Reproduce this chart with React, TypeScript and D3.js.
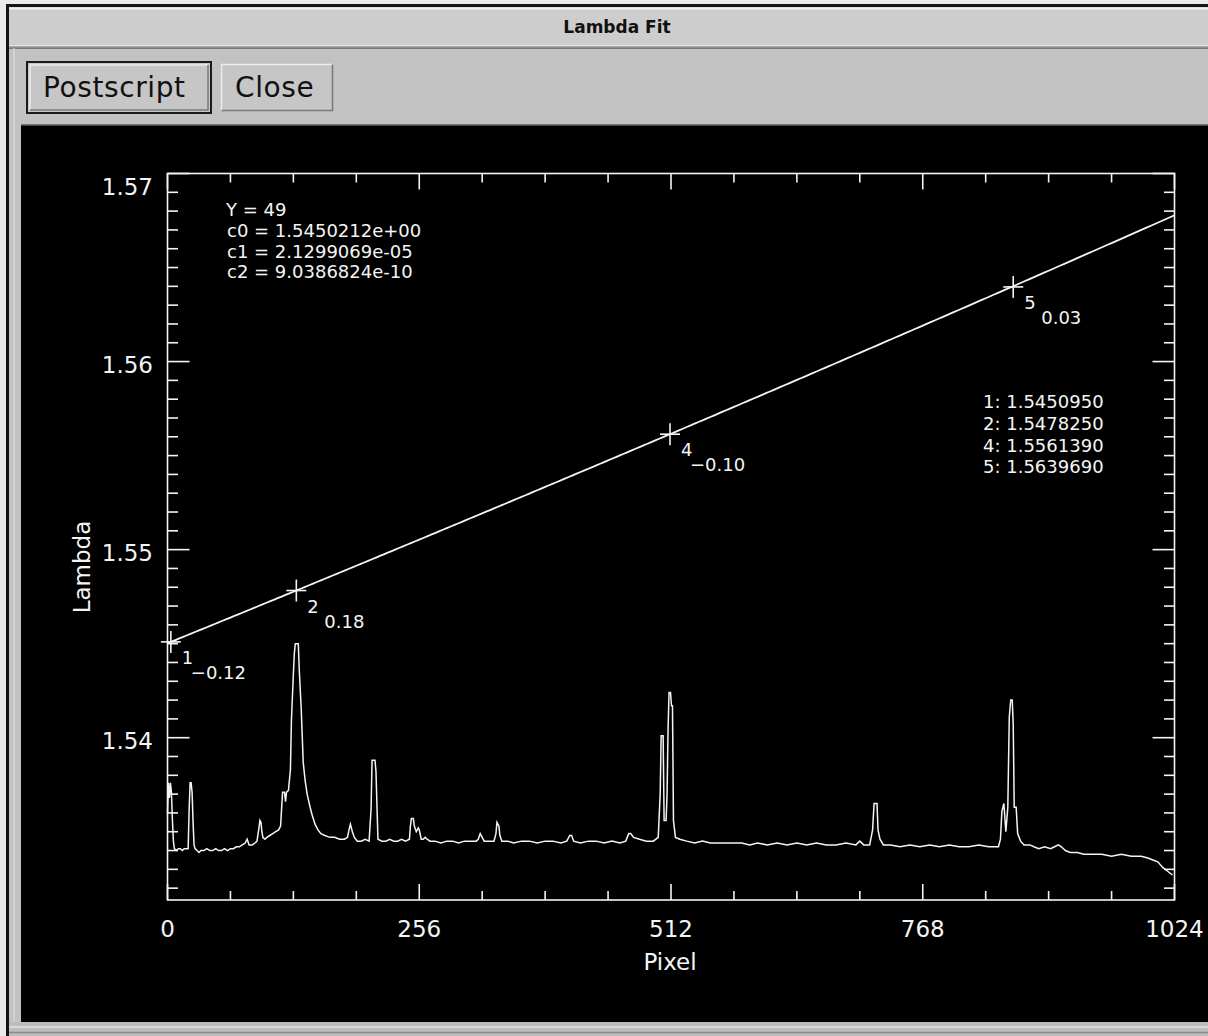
import React from "react";
import * as d3 from "d3";

// Fit result for the selected row
const rowIndex = 49;
const coefNames = ["c0", "c1", "c2"];
const coefValues = [1.5450212, 2.1299069e-5, 9.0386824e-10];
const coefText = ["1.5450212e+00", "2.1299069e-05", "9.0386824e-10"];

// Identified arc lines: id, measured pixel, wavelength, residual
const lineIds = [1, 2, 4, 5];
const linePixels = [3.4, 131, 511, 860];
const lineLambdas = [1.545095, 1.547825, 1.556139, 1.563969];
const lineLambdaText = ["1.5450950", "1.5478250", "1.5561390", "1.5639690"];
const lineResiduals = [-0.12, 0.18, -0.1, 0.03];

// Axis ticks
const xMajorTicks = [0, 256, 512, 768, 1024];
const yMajorTicks = [1.54, 1.55, 1.56, 1.57];

// Arc spectrum row, scaled onto the wavelength axis
const specPixels = [
  0, 1, 2, 3, 4, 5, 6, 7, 9, 11, 13, 15, 17, 19, 21, 22, 23, 24, 25, 26, 27, 28, 30, 32, 34, 37, 40, 43, 46, 49,
  52, 55, 58, 61, 64, 67, 70, 73, 76, 79, 81, 83, 86, 89, 91, 93, 94, 95, 96, 97, 99, 101, 104, 107, 110, 113, 115,
  116, 117, 119, 120, 121, 123, 125, 126, 128, 129, 130, 133, 134, 136, 138, 140, 142, 145, 147, 150, 153, 156, 160,
  165, 170, 175, 180, 183, 185, 186, 188, 190, 193, 197, 201, 205, 207, 208, 211, 212, 213, 214, 218, 222, 226, 230,
  234, 238, 242, 246, 247, 248, 250, 251, 253, 255, 256, 258, 260, 262, 264, 267, 272, 278, 284, 290, 296, 302, 308,
  314, 316, 318, 320, 322, 327, 332, 334, 335, 337, 338, 340, 346, 352, 360, 368, 376, 384, 392, 400, 406, 409, 411,
  413, 420, 428, 436, 444, 452, 460, 466, 469, 471, 474, 480, 487, 494, 499, 501, 502, 504, 505, 507, 508, 509, 510,
  511.5, 512.5, 513.5, 514.5, 516.5, 521, 528, 536, 544, 552, 560, 568, 576, 584, 592, 600, 610, 620, 630, 640, 650,
  660, 670, 680, 690, 700, 704, 708, 714, 717, 718.5, 721.5, 722.5, 724.5, 728, 735, 745, 755, 765, 775, 785, 795,
  805, 815, 825, 835, 845, 847, 848.5, 850.5, 852.5, 854.5, 856, 857.5, 859, 860, 861, 863, 864.5, 867.5, 871, 877,
  881, 886, 892, 898, 902, 906, 909, 913, 918, 925, 932, 940, 950, 960, 970, 980, 990, 997, 1002, 1007, 1012, 1017,
  1022,
];
const specValues = [
  1.536, 1.5376, 1.5368, 1.5376, 1.5371, 1.5356, 1.5345, 1.5341, 1.534, 1.5341, 1.5341, 1.534, 1.5341, 1.5341,
  1.5341, 1.5362, 1.5376, 1.5376, 1.5371, 1.5355, 1.5343, 1.5341, 1.534, 1.5339, 1.534, 1.534, 1.5341, 1.534, 1.534,
  1.5341, 1.534, 1.534, 1.5341, 1.534, 1.5341, 1.5341, 1.5342, 1.5342, 1.5343, 1.5344, 1.5346, 1.5343, 1.5343,
  1.5344, 1.5345, 1.5352, 1.5356, 1.5355, 1.535, 1.5347, 1.5346, 1.5347, 1.5348, 1.5349, 1.535, 1.5351, 1.5353,
  1.5362, 1.5371, 1.5371, 1.5366, 1.5371, 1.5372, 1.5383, 1.5409, 1.5434, 1.5445, 1.545, 1.545, 1.5436, 1.5415,
  1.5387, 1.5377, 1.537, 1.5363, 1.5359, 1.5354, 1.5351, 1.5349, 1.5348, 1.5347, 1.5347, 1.5346, 1.5346, 1.5347,
  1.5352, 1.5354, 1.535, 1.5347, 1.5345, 1.5345, 1.5346, 1.5345, 1.5362, 1.5388, 1.5388, 1.5382, 1.5364, 1.5346,
  1.5345, 1.5345, 1.5346, 1.5345, 1.5345, 1.5346, 1.5345, 1.5346, 1.5353, 1.5357, 1.5357, 1.5353, 1.535, 1.5352,
  1.5351, 1.5346, 1.5346, 1.5347, 1.5346, 1.5345, 1.5345, 1.5344, 1.5345, 1.5345, 1.5344, 1.5345, 1.5345, 1.5345,
  1.5346, 1.5349, 1.5347, 1.5345, 1.5345, 1.5345, 1.5349, 1.5355, 1.5353, 1.5348, 1.5345, 1.5345, 1.5344, 1.5345,
  1.5345, 1.5344, 1.5345, 1.5345, 1.5344, 1.5345, 1.5348, 1.5348, 1.5345, 1.5344, 1.5345, 1.5345, 1.5344, 1.5345,
  1.5344, 1.5345, 1.5349, 1.5349, 1.5347, 1.5346, 1.5345, 1.5345, 1.5347, 1.537, 1.5401, 1.5401, 1.5356, 1.5356,
  1.537, 1.5404, 1.5424, 1.5424, 1.5417, 1.5417, 1.5356, 1.5347, 1.5346, 1.5345, 1.5344, 1.5345, 1.5344, 1.5344,
  1.5344, 1.5344, 1.5344, 1.5343, 1.5344, 1.5343, 1.5344, 1.5343, 1.5344, 1.5343, 1.5344, 1.5343, 1.5343, 1.5344,
  1.5343, 1.5345, 1.5343, 1.5343, 1.5351, 1.5365, 1.5365, 1.5351, 1.5346, 1.5343, 1.5343, 1.5342, 1.5343, 1.5342,
  1.5343, 1.5342, 1.5343, 1.5342, 1.5342, 1.5343, 1.5342, 1.5342, 1.5346, 1.5361, 1.5365, 1.535, 1.5363, 1.5411,
  1.542, 1.542, 1.5407, 1.5363, 1.5363, 1.5349, 1.5345, 1.5343, 1.5343, 1.5342, 1.5341, 1.5342, 1.5341, 1.5342,
  1.5343, 1.5342, 1.534, 1.5339, 1.5339, 1.5338, 1.5338, 1.5338, 1.5337, 1.5338, 1.5337, 1.5337, 1.5336, 1.5335,
  1.5334, 1.5331, 1.5329, 1.5327,
];

const FONT = "'DejaVu Sans', 'Liberation Sans', sans-serif";

const plot = { left: 167.5, right: 1174.5, top: 173.5, bottom: 900 };

export default function App() {
  const x = d3.scaleLinear().domain([0, 1024]).range([plot.left, plot.right]);
  const y = d3.scaleLinear().domain([1.53137, 1.57]).range([plot.bottom, plot.top]);

  const fit = (p: number) => coefValues[0] + coefValues[1] * p + coefValues[2] * p * p;
  const fitPixels = d3.range(0, 1024.01, 4);
  const fitPath = d3
    .line<number>()
    .x((p) => x(p))
    .y((p) => y(fit(p)))(fitPixels);

  const specPath = d3
    .line<number>()
    .x((_, i) => x(specPixels[i]))
    .y((v) => y(v))(specValues);

  const xMinor = d3.range(0, 1024.01, 64).filter((t) => !xMajorTicks.includes(t));
  const yMinor = d3
    .range(1532, 1570.5, 1)
    .map((t) => t / 1000)
    .filter((t) => !yMajorTicks.some((m) => Math.abs(m - t) < 1e-9));

  const white = "#f4f4f4";

  return (
    <svg
      width={1208}
      height={1036}
      style={{ position: "absolute", left: 0, top: 0, display: "block" }}
      fontFamily={FONT}
    >
      {/* window frame */}
      <rect x={0} y={0} width={1208} height={1036} fill="#e9e9e9" />
      <rect x={6} y={4} width={1202} height={1032} fill="#141414" />
      <rect x={9} y={7} width={1199} height={39} fill="#cdcdcd" />
      <line x1={9} x2={1208} y1={8.5} y2={8.5} stroke="#f0f0f0" strokeWidth={2} />
      <line x1={9} x2={1208} y1={46} y2={46} stroke="#ececec" strokeWidth={1.5} />
      <line x1={9} x2={1208} y1={47.5} y2={47.5} stroke="#8c8c8c" strokeWidth={1.5} />
      <rect x={9} y={48.5} width={1199} height={988} fill="#c2c2c2" />
      <line x1={14} x2={14} y1={48} y2={1030} stroke="#e2e2e2" strokeWidth={1} />
      <text x={617} y={33} textAnchor="middle" fontSize={17} fontWeight="bold" fill="#111">
        Lambda Fit
      </text>

      {/* buttons */}
      <rect x={27} y={62} width={184} height={51} fill="#c6c6c6" stroke="#1a1a1a" strokeWidth={2} />
      <path d="M30,110 V65 H208" fill="none" stroke="#ececec" strokeWidth={1.5} />
      <path d="M30,110 H208 V65" fill="none" stroke="#7a7a7a" strokeWidth={1.5} />
      <text x={43} y={97} fontSize={28} fill="#111" letterSpacing={0.6}>
        Postscript
      </text>
      <rect x={221} y={64} width={112} height={47} fill="#c6c6c6" />
      <path d="M221.5,110.5 V64.5 H332.5" fill="none" stroke="#ececec" strokeWidth={1.5} />
      <path d="M221.5,110.5 H332.5 V64.5" fill="none" stroke="#7a7a7a" strokeWidth={1.5} />
      <text x={235} y={97} fontSize={28} fill="#111" letterSpacing={0.6}>
        Close
      </text>

      {/* drawing area */}
      <rect x={21} y={125} width={1187} height={897} fill="#000" />
      <line x1={21} x2={1208} y1={125} y2={125} stroke="#5a5a5a" strokeWidth={1.5} />
      <rect x={9} y={1022} width={1199} height={14} fill="#bdbdbd" />
      <line x1={9} x2={1208} y1={1027} y2={1027} stroke="#e4e4e4" strokeWidth={1.5} />
      <line x1={9} x2={1208} y1={1032.5} y2={1032.5} stroke="#8a8a8a" strokeWidth={1.5} />

      {/* plot box */}
      <g stroke={white} strokeWidth={1.6} fill="none">
        <rect x={plot.left} y={plot.top} width={plot.right - plot.left} height={plot.bottom - plot.top} />
        {xMajorTicks.map((t) => (
          <g key={"xm" + t}>
            <line x1={x(t)} x2={x(t)} y1={plot.bottom} y2={plot.bottom - 16} />
            <line x1={x(t)} x2={x(t)} y1={plot.top} y2={plot.top + 16} />
          </g>
        ))}
        {xMinor.map((t) => (
          <g key={"xn" + t}>
            <line x1={x(t)} x2={x(t)} y1={plot.bottom} y2={plot.bottom - 9} />
            <line x1={x(t)} x2={x(t)} y1={plot.top} y2={plot.top + 9} />
          </g>
        ))}
        {yMajorTicks.map((t) => (
          <g key={"ym" + t}>
            <line x1={plot.left} x2={plot.left + 22} y1={y(t)} y2={y(t)} />
            <line x1={plot.right} x2={plot.right - 22} y1={y(t)} y2={y(t)} />
          </g>
        ))}
        {yMinor.map((t) => (
          <g key={"yn" + t}>
            <line x1={plot.left} x2={plot.left + 10.5} y1={y(t)} y2={y(t)} />
            <line x1={plot.right} x2={plot.right - 10.5} y1={y(t)} y2={y(t)} />
          </g>
        ))}
      </g>

      {/* tick labels */}
      <g fill={white} fontSize={23}>
        {xMajorTicks.map((t) => (
          <text key={"xl" + t} x={x(t)} y={937} textAnchor="middle">
            {t}
          </text>
        ))}
        {yMajorTicks.map((t) => (
          <text key={"yl" + t} x={153} y={Math.max(y(t) + 11, 195)} textAnchor="end">
            {t.toFixed(2)}
          </text>
        ))}
        <text x={670} y={970} textAnchor="middle">
          Pixel
        </text>
        <text transform="translate(90,567) rotate(-90)" textAnchor="middle">
          Lambda
        </text>
      </g>

      {/* spectrum and fit */}
      <path d={specPath || ""} fill="none" stroke={white} strokeWidth={1.5} strokeLinejoin="miter" />
      <path d={fitPath || ""} fill="none" stroke={white} strokeWidth={1.8} />

      {/* identified lines */}
      <g fill={white} fontSize={18}>
        {lineIds.map((id, i) => {
          const cx = x(linePixels[i]);
          const cy = y(lineLambdas[i]);
          const r = lineResiduals[i];
          const label = (r < 0 ? "\u2212" : "") + Math.abs(r).toFixed(2);
          return (
            <g key={"id" + id}>
              <line x1={cx - 10} x2={cx + 10} y1={cy} y2={cy} stroke={white} strokeWidth={1.6} />
              <line x1={cx} x2={cx} y1={cy - 11} y2={cy + 11} stroke={white} strokeWidth={1.6} />
              <text x={cx + 11} y={cy + 22}>
                {id}
              </text>
              <text x={cx + (r < 0 ? 20 : 28)} y={cy + 37}>
                {label}
              </text>
            </g>
          );
        })}
      </g>

      {/* fit summary */}
      <g fill={white} fontSize={18}>
        <text x={226} y={216}>{`Y = ${rowIndex}`}</text>
        {coefNames.map((n, i) => (
          <text key={n} x={227} y={237 + i * 20.7}>{`${n} = ${coefText[i]}`}</text>
        ))}
        {lineIds.map((id, i) => (
          <text key={"ll" + id} x={983} y={408 + i * 21.8}>{`${id}: ${lineLambdaText[i]}`}</text>
        ))}
      </g>
    </svg>
  );
}
